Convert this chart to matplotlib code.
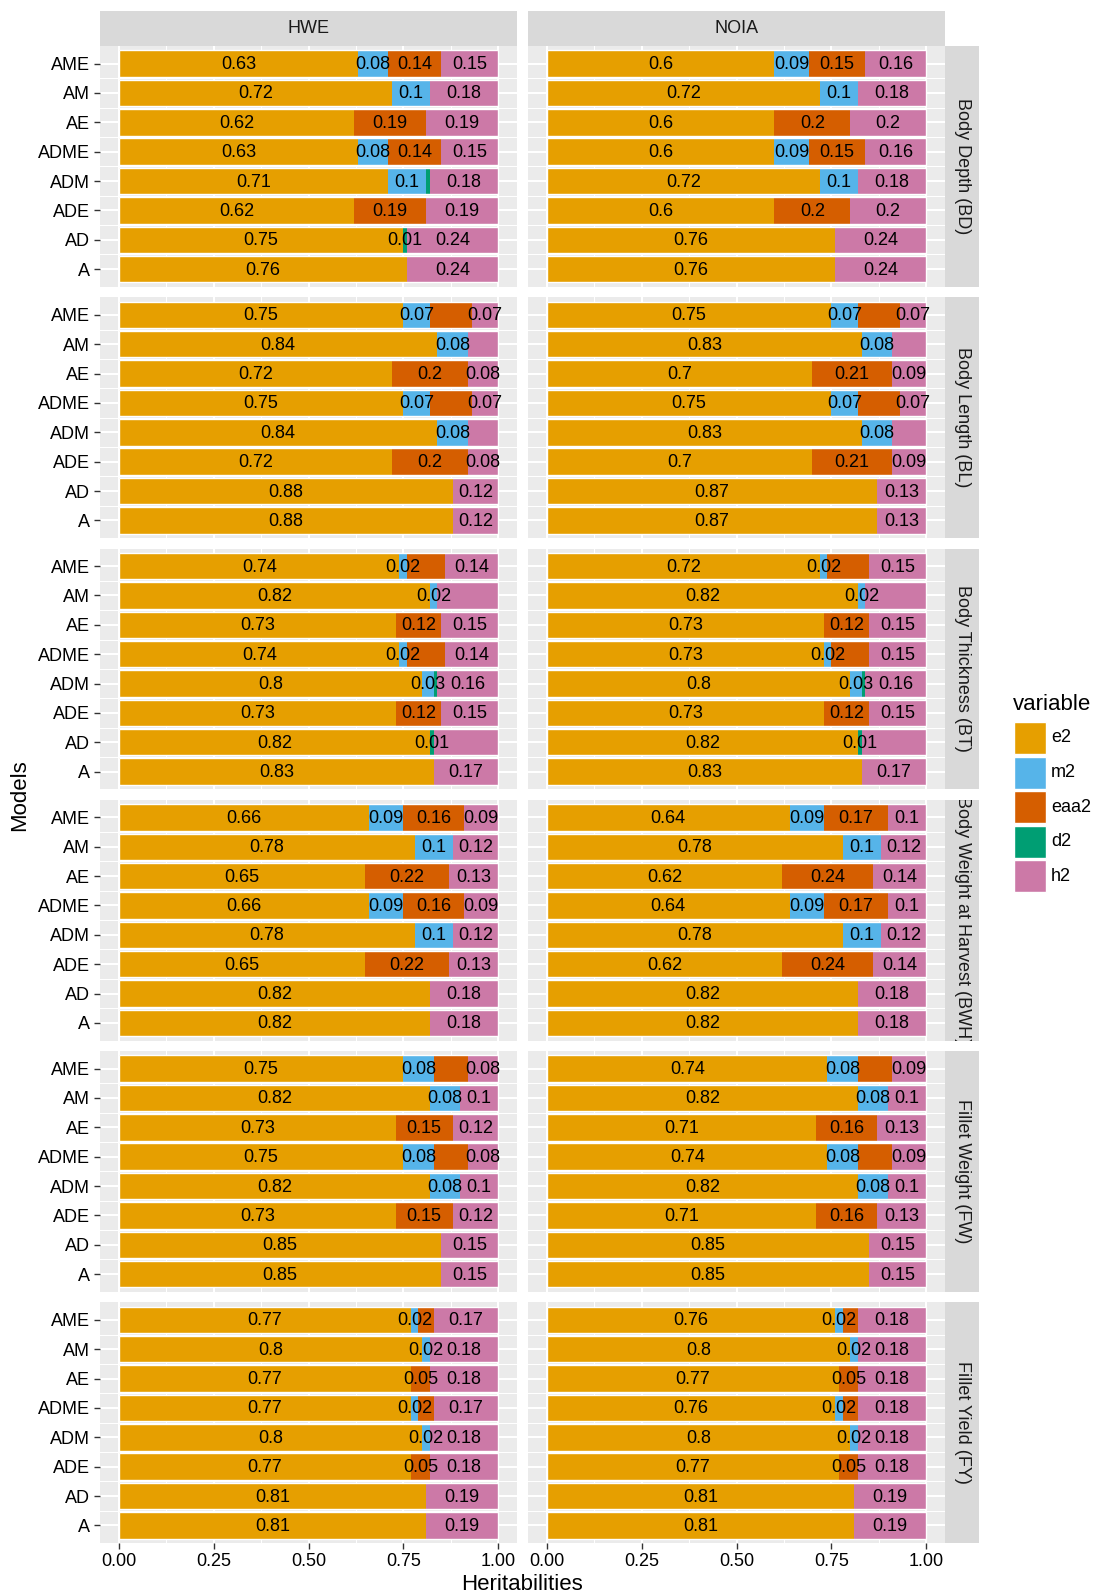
import matplotlib
matplotlib.use('Agg')
import matplotlib.pyplot as plt
from matplotlib.patches import Rectangle
from matplotlib.transforms import ScaledTranslation
import numpy as np

plt.rcParams['font.family'] = ['Liberation Sans', 'DejaVu Sans']

# ---------------- data ----------------
models = ['A', 'AD', 'ADE', 'ADM', 'ADME', 'AE', 'AM', 'AME']
components = ['e2', 'm2', 'eaa2', 'd2', 'h2']
comp_colors = ['#E69F00', '#56B4E9', '#D55E00', '#009E73', '#CC79A7']
methods = ['HWE', 'NOIA']
traits = ['Body Depth (BD)', 'Body Length (BL)', 'Body Thickness (BT)',
          'Body Weight at Harvest (BWH)', 'Fillet Weight (FW)', 'Fillet Yield (FY)']
x_ticks = [0.00, 0.25, 0.50, 0.75, 1.00]
x_tick_labels = ['0.00', '0.25', '0.50', '0.75', '1.00']

# values per model in order A, AD, ADE, ADM, ADME, AE, AM, AME
BD_HWE = dict(e2=[.76, .75, .62, .71, .63, .62, .72, .63],
              m2=[0, 0, 0, .10, .08, 0, .10, .08],
              eaa2=[0, 0, .19, 0, .14, .19, 0, .14],
              d2=[0, .01, 0, .01, 0, 0, 0, 0],
              h2=[.24, .24, .19, .18, .15, .19, .18, .15])
BD_NOIA = dict(e2=[.76, .76, .60, .72, .60, .60, .72, .60],
               m2=[0, 0, 0, .10, .09, 0, .10, .09],
               eaa2=[0, 0, .20, 0, .15, .20, 0, .15],
               d2=[0, 0, 0, 0, 0, 0, 0, 0],
               h2=[.24, .24, .20, .18, .16, .20, .18, .16])
BL_HWE = dict(e2=[.88, .88, .72, .84, .75, .72, .84, .75],
              m2=[0, 0, 0, .08, .07, 0, .08, .07],
              eaa2=[0, 0, .20, 0, .11, .20, 0, .11],
              d2=[0, 0, 0, 0, 0, 0, 0, 0],
              h2=[.12, .12, .08, .08, .07, .08, .08, .07])
BL_NOIA = dict(e2=[.87, .87, .70, .83, .75, .70, .83, .75],
               m2=[0, 0, 0, .08, .07, 0, .08, .07],
               eaa2=[0, 0, .21, 0, .11, .21, 0, .11],
               d2=[0, 0, 0, 0, 0, 0, 0, 0],
               h2=[.13, .13, .09, .09, .07, .09, .09, .07])
BT_HWE = dict(e2=[.83, .82, .73, .80, .74, .73, .82, .74],
              m2=[0, 0, 0, .03, .02, 0, .02, .02],
              eaa2=[0, 0, .12, 0, .10, .12, 0, .10],
              d2=[0, .01, 0, .01, 0, 0, 0, 0],
              h2=[.17, .17, .15, .16, .14, .15, .16, .14])
BT_NOIA = dict(e2=[.83, .82, .73, .80, .73, .73, .82, .72],
               m2=[0, 0, 0, .03, .02, 0, .02, .02],
               eaa2=[0, 0, .12, 0, .10, .12, 0, .11],
               d2=[0, .01, 0, .01, 0, 0, 0, 0],
               h2=[.17, .17, .15, .16, .15, .15, .16, .15])
BWH_HWE = dict(e2=[.82, .82, .65, .78, .66, .65, .78, .66],
               m2=[0, 0, 0, .10, .09, 0, .10, .09],
               eaa2=[0, 0, .22, 0, .16, .22, 0, .16],
               d2=[0, 0, 0, 0, 0, 0, 0, 0],
               h2=[.18, .18, .13, .12, .09, .13, .12, .09])
BWH_NOIA = dict(e2=[.82, .82, .62, .78, .64, .62, .78, .64],
                m2=[0, 0, 0, .10, .09, 0, .10, .09],
                eaa2=[0, 0, .24, 0, .17, .24, 0, .17],
                d2=[0, 0, 0, 0, 0, 0, 0, 0],
                h2=[.18, .18, .14, .12, .10, .14, .12, .10])
FW_HWE = dict(e2=[.85, .85, .73, .82, .75, .73, .82, .75],
              m2=[0, 0, 0, .08, .08, 0, .08, .08],
              eaa2=[0, 0, .15, 0, .09, .15, 0, .09],
              d2=[0, 0, 0, 0, 0, 0, 0, 0],
              h2=[.15, .15, .12, .10, .08, .12, .10, .08])
FW_NOIA = dict(e2=[.85, .85, .71, .82, .74, .71, .82, .74],
               m2=[0, 0, 0, .08, .08, 0, .08, .08],
               eaa2=[0, 0, .16, 0, .09, .16, 0, .09],
               d2=[0, 0, 0, 0, 0, 0, 0, 0],
               h2=[.15, .15, .13, .10, .09, .13, .10, .09])
FY_HWE = dict(e2=[.81, .81, .77, .80, .77, .77, .80, .77],
              m2=[0, 0, 0, .02, .02, 0, .02, .02],
              eaa2=[0, 0, .05, 0, .04, .05, 0, .04],
              d2=[0, 0, 0, 0, 0, 0, 0, 0],
              h2=[.19, .19, .18, .18, .17, .18, .18, .17])
FY_NOIA = dict(e2=[.81, .81, .77, .80, .76, .77, .80, .76],
               m2=[0, 0, 0, .02, .02, 0, .02, .02],
               eaa2=[0, 0, .05, 0, .04, .05, 0, .04],
               d2=[0, 0, 0, 0, 0, 0, 0, 0],
               h2=[.19, .19, .18, .18, .18, .18, .18, .18])

panel_data = [[BD_HWE, BD_NOIA], [BL_HWE, BL_NOIA], [BT_HWE, BT_NOIA],
              [BWH_HWE, BWH_NOIA], [FW_HWE, FW_NOIA], [FY_HWE, FY_NOIA]]

# labels dropped by overlap checking in the original (trait idx, model, component)
hidden_labels = {
    (0, 'ADM', 'd2'),
    (1, 'AME', 'eaa2'), (1, 'ADME', 'eaa2'), (1, 'AM', 'h2'), (1, 'ADM', 'h2'),
    (2, 'AME', 'eaa2'), (2, 'ADME', 'eaa2'), (2, 'AM', 'h2'), (2, 'ADM', 'd2'), (2, 'AD', 'h2'),
    (4, 'AME', 'eaa2'), (4, 'ADME', 'eaa2'),
    (5, 'AME', 'eaa2'), (5, 'ADME', 'eaa2'),
}

# ---------------- layout ----------------
W, H = 1094, 1595
fig = plt.figure(figsize=(W / 100, H / 100), dpi=100)
fig.patch.set_facecolor('white')


def rect(x0, y0, x1, y1):
    return [x0 / W, 1 - y1 / H, (x1 - x0) / W, (y1 - y0) / H]


col_x = [100, 528]
pw = 417
top0, ph, gap = 46, 240.75, 10.5
strip_col = '#D9D9D9'
txt_col = '#1A1A1A'
grid_kw = dict(color='white', zorder=0)
LBL = 13

ypos = np.arange(1, len(models) + 1)
down = ScaledTranslation(0, -1 / 100, fig.dpi_scale_trans)

for r, trait in enumerate(traits):
    top = top0 + r * (ph + gap)
    bot = top + ph
    for c, method in enumerate(methods):
        x0 = col_x[c]
        ax = fig.add_axes(rect(x0, top, x0 + pw, bot))
        ax.set_facecolor('#EBEBEB')
        ax.set_xlim(-0.05, 1.05)
        ax.set_ylim(0.4, 8.6)
        for s in ax.spines.values():
            s.set_visible(False)
        # grid
        for xv in np.arange(0.125, 1.0, 0.25):
            ax.axvline(xv, lw=0.75, **grid_kw)
        for xv in x_ticks:
            ax.axvline(xv, lw=1.5, **grid_kw)
        for yv in ypos:
            ax.axhline(yv, lw=1.5, **grid_kw)
        for yv in ypos[:-1] + 0.5:
            ax.axhline(yv, lw=0.75, **grid_kw)

        d = panel_data[r][c]
        left = np.zeros(len(models))
        for comp, col in zip(components, comp_colors):
            vals = np.array(d[comp], dtype=float)
            ax.barh(ypos, vals, left=left, height=0.9, color=col,
                    edgecolor='none', zorder=2)
            for i, v in enumerate(vals):
                if v <= 0:
                    continue
                if (r, models[i], comp) in hidden_labels:
                    continue
                ax.text(left[i] + v / 2, ypos[i], '%g' % round(v, 2),
                        ha='center', va='center', fontsize=LBL, color='black',
                        zorder=3, transform=ax.transData + down)
            left = left + vals
        # white outline around each whole bar
        ax.barh(ypos, left, height=0.9, color='none', edgecolor='white',
                lw=1.0, zorder=2.5)

        ax.set_xticks(x_ticks)
        ax.set_yticks(ypos)
        ax.tick_params(axis='both', length=4, width=1.0, color='#333333',
                       labelsize=13, labelcolor='black', pad=3)
        if c == 0:
            ax.set_yticklabels(models)
        else:
            ax.tick_params(axis='y', length=0, labelleft=False)
        if r == len(traits) - 1:
            ax.set_xticklabels(x_tick_labels)
        else:
            ax.tick_params(axis='x', length=0, labelbottom=False)

        # top strips
        if r == 0:
            sax = fig.add_axes(rect(x0, 11, x0 + pw, top))
            sax.set_facecolor(strip_col)
            sax.set_xticks([]); sax.set_yticks([])
            for s in sax.spines.values():
                s.set_visible(False)
            sax.text(0.5, 0.5, method, ha='center', va='center', fontsize=13,
                     color=txt_col, transform=sax.transAxes)
    # right strip
    rax = fig.add_axes(rect(945, top, 979, bot))
    rax.set_facecolor(strip_col)
    rax.set_xticks([]); rax.set_yticks([])
    for s in rax.spines.values():
        s.set_visible(False)
    rax.text(0.5, 0.5, trait, ha='center', va='center', rotation=-90,
             fontsize=13, color=txt_col, transform=rax.transAxes, clip_on=True)

# axis titles
fig.text(20 / W, 1 - 795 / H, 'Models', rotation=90, ha='center', va='center',
         fontsize=16, color='black')
fig.text(522 / W, 1 - 1584 / H, 'Heritabilities', ha='center', va='center',
         fontsize=16, color='black')

# legend
fig.text(1013 / W, 1 - 704 / H, 'variable', ha='left', va='center',
         fontsize=16, color='black')
key_y0 = 738
for k, (comp, col) in enumerate(zip(components, comp_colors)):
    cy = key_y0 + k * 34.6
    fig.patches.append(Rectangle((1014 / W, 1 - (cy + 16) / H), 32 / W, 32 / H,
                                 transform=fig.transFigure, facecolor=col,
                                 edgecolor='white', lw=1.0))
    fig.text(1051 / W, 1 - cy / H, comp, ha='left', va='center', fontsize=13,
             color='black')

fig.savefig('out.png', dpi=100, facecolor='white')
